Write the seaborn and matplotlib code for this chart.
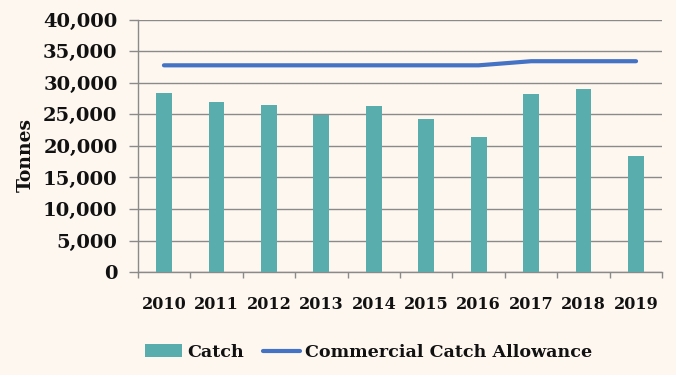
import numpy as np
import pandas as pd
import matplotlib
matplotlib.use("Agg")
import matplotlib.pyplot as plt
from matplotlib.ticker import FuncFormatter, FixedLocator
import seaborn as sns

years = ["2010", "2011", "2012", "2013", "2014", "2015", "2016", "2017", "2018", "2019"]
catch = [28400, 26900, 26500, 24900, 26300, 24250, 21400, 28200, 29000, 18400]
allowance = [32750, 32750, 32750, 32750, 32750, 32750, 32750, 33400, 33400, 33400]
y_ticks = [0, 5000, 10000, 15000, 20000, 25000, 30000, 35000, 40000]

BG = "#FEF7F0"
BAR = "#5AADAD"
LINE = "#4472C4"
GRID = "#8A8A8A"
TXT = "#111111"

sns.set_theme(style="white")
plt.rcParams["font.family"] = ["DejaVu Serif"]
plt.rcParams["font.weight"] = "bold"

fig = plt.figure(figsize=(6.76, 3.75), dpi=100, facecolor=BG)
ax = fig.add_axes([0.2037, 0.2739, 0.9797 - 0.2037, 0.948 - 0.2739])
ax.set_facecolor(BG)

df = pd.DataFrame({"year": years, "catch": catch})
sns.barplot(data=df, x="year", y="catch", color=BAR, saturation=1, width=0.30,
            label="Catch", ax=ax, zorder=3, linewidth=0, edgecolor="none")
sns.lineplot(x=np.arange(len(years)), y=allowance, color=LINE, linewidth=3.0,
             label="Commercial Catch Allowance", ax=ax, zorder=4,
             solid_capstyle="round")

ax.set_xlim(-0.5, len(years) - 0.5)
ax.set_ylim(0, 40000)
ax.yaxis.set_major_locator(FixedLocator(y_ticks))
ax.yaxis.set_major_formatter(FuncFormatter(lambda v, p: f"{int(v):,}"))
ax.grid(axis="y", color=GRID, linewidth=1.0, zorder=0)
ax.grid(axis="x", visible=False)

# x ticks: marks at category boundaries, labels at centers
ax.xaxis.set_major_locator(FixedLocator(np.arange(len(years) + 1) - 0.5))
ax.xaxis.set_minor_locator(FixedLocator(np.arange(len(years))))
ax.set_xticklabels([""] * (len(years) + 1))
ax.xaxis.set_minor_formatter(FuncFormatter(lambda v, p: years[int(round(v))]))
ax.tick_params(axis="x", which="major", length=4.3, width=1, color=GRID, direction="out", bottom=True)
ax.tick_params(axis="x", which="minor", length=0, labelsize=11.5, pad=17, labelcolor=TXT)
ax.tick_params(axis="y", which="major", length=6.5, width=1, color=GRID, direction="out", left=True,
               labelsize=14, pad=8, labelcolor=TXT)
for lab in ax.get_xticklabels(minor=True):
    lab.set_fontweight("bold")
for lab in ax.get_yticklabels():
    lab.set_fontweight("bold")

for side in ["top", "right"]:
    ax.spines[side].set_visible(False)
for side in ["left", "bottom"]:
    ax.spines[side].set_color(GRID)
    ax.spines[side].set_linewidth(1.0)

ax.set_xlabel("")
ax.set_ylabel("Tonnes", fontsize=13.5, fontweight="bold", color=TXT)
ax.yaxis.set_label_coords(-0.196, 0.465)

handles, labels = ax.get_legend_handles_labels()
order = [labels.index("Catch"), labels.index("Commercial Catch Allowance")]
leg = ax.legend([handles[i] for i in order], [labels[i] for i in order],
                loc="center", bbox_to_anchor=(0.546, 0.061),
                bbox_transform=fig.transFigure, ncol=2, frameon=False,
                prop={"size": 12.6, "weight": "bold"}, handlelength=2.1,
                handletextpad=0.3, columnspacing=1.1)
for t in leg.get_texts():
    t.set_color(TXT)

fig.savefig("out.png", dpi=100, facecolor=BG)
